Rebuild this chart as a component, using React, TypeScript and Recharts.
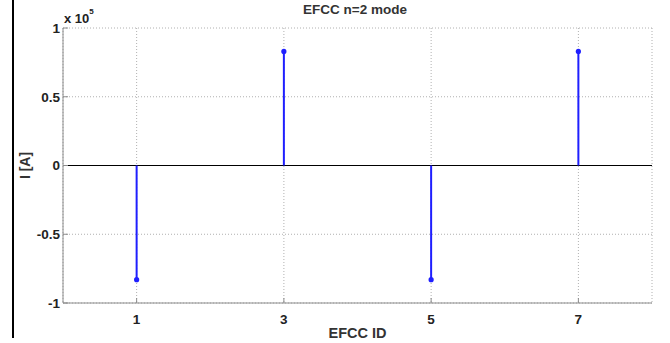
import React from "react";
import {
  ComposedChart,
  XAxis,
  YAxis,
  CartesianGrid,
  Scatter,
  ReferenceLine,
  Label,
} from "recharts";

const efccIds = [1, 3, 5, 7];
const currents = [-83000, 83000, -83000, 83000];
const xTicks = [1, 3, 5, 7];
const yTicks = [-100000, -50000, 0, 50000, 100000];
const yTickLabels = ["-1", "-0.5", "0", "0.5", "1"];

const data = efccIds.map((id, i) => ({ id, current: currents[i] }));

const FONT = "'Liberation Sans', Arial, Helvetica, sans-serif";
const AXIS_GRAY = "#8c8c8c";
const STEM = "#1f1fff";

const tickStyle = { fontFamily: FONT, fontSize: 13.5, fontWeight: 700, fill: "#222" };

export default function App() {
  return (
    <div style={{ position: "absolute", left: 0, top: 0, width: 670, height: 343, background: "#fff" }}>
      <div style={{ position: "absolute", left: 12, top: 0, width: 2, height: 338, background: "#000" }} />
      <ComposedChart
        width={670}
        height={343}
        data={data}
        margin={{ top: 28, right: 18, bottom: 15, left: 23 }}
      >
        <CartesianGrid xAxisId="b" yAxisId="l" stroke="#b0b0b0" strokeDasharray="1 2" />
        <XAxis
          xAxisId="b"
          type="number"
          dataKey="id"
          domain={[0, 8]}
          ticks={xTicks}
          allowDataOverflow
          height={25}
          axisLine={{ stroke: AXIS_GRAY }}
          tickLine={{ stroke: AXIS_GRAY }}
          tickSize={-5}
          tickMargin={16}
          tick={tickStyle}
        >
          <Label
            value="EFCC ID"
            position="insideBottom"
            offset={-10}
            style={{ fontFamily: FONT, fontSize: 14.5, fontWeight: 700, fill: "#333" }}
          />
        </XAxis>
        <XAxis
          xAxisId="t"
          orientation="top"
          type="number"
          domain={[0, 8]}
          ticks={xTicks}
          height={0}
          axisLine={{ stroke: "#555" }}
          tickLine={{ stroke: AXIS_GRAY }}
          tickSize={-5}
          tick={false}
        />
        <YAxis
          yAxisId="l"
          type="number"
          domain={[-100000, 100000]}
          ticks={yTicks}
          allowDataOverflow
          width={40}
          axisLine={{ stroke: AXIS_GRAY }}
          tickLine={{ stroke: AXIS_GRAY }}
          tickSize={-5}
          tickMargin={8}
          tick={tickStyle}
          tickFormatter={(v: number) => yTickLabels[yTicks.indexOf(v)] ?? String(v / 1e5)}
        >
          <Label
            value="I [A]"
            angle={-90}
            position="insideLeft"
            offset={2}
            style={{ fontFamily: FONT, fontSize: 14, fontWeight: 700, fill: "#333", textAnchor: "middle" }}
          />
        </YAxis>
        <YAxis
          yAxisId="r"
          orientation="right"
          type="number"
          domain={[-100000, 100000]}
          ticks={yTicks}
          width={0}
          axisLine={{ stroke: AXIS_GRAY }}
          tickLine={{ stroke: AXIS_GRAY }}
          tickSize={-5}
          tick={false}
        />
        <ReferenceLine xAxisId="b" yAxisId="l" y={0} stroke="#000" strokeWidth={1} />
        {data.map((d) => (
          <ReferenceLine
            key={d.id}
            xAxisId="b"
            yAxisId="l"
            segment={[
              { x: d.id, y: 0 },
              { x: d.id, y: d.current },
            ]}
            stroke={STEM}
            strokeWidth={2}
          />
        ))}
        <Scatter
          xAxisId="b"
          yAxisId="l"
          dataKey="current"
          fill={STEM}
          isAnimationActive={false}
          shape={(p: any) => <circle cx={p.cx} cy={p.cy} r={2.6} fill={STEM} />}
        />
      </ComposedChart>
      <div
        style={{
          position: "absolute",
          left: 0,
          width: 670,
          top: 2,
          textAlign: "center",
          fontFamily: FONT,
          fontSize: 13.5,
          fontWeight: 700,
          color: "#333",
          paddingLeft: 40,
          boxSizing: "border-box",
        }}
      >
        EFCC n=2 mode
      </div>
      <div
        style={{
          position: "absolute",
          left: 64,
          top: 11,
          fontFamily: FONT,
          fontSize: 13,
          fontWeight: 700,
          color: "#222",
        }}
      >
        x 10<sup style={{ fontSize: 8, verticalAlign: "top", position: "relative", top: -4 }}>5</sup>
      </div>
    </div>
  );
}
